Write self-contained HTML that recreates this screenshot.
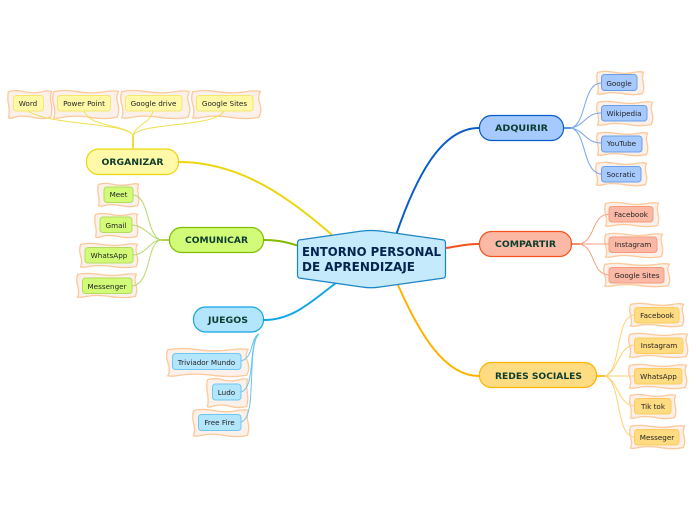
<!DOCTYPE html>
<html><head><meta charset="utf-8"><style>
html,body{margin:0;padding:0;background:#fff}
svg{display:block}
text{font-family:"DejaVu Sans","Liberation Sans",sans-serif}
.w{fill:#fbf0ea;stroke:#fdc99a;stroke-width:1.3;vector-effect:non-scaling-stroke}
.l{font-size:7.2px;fill:#222;text-anchor:middle}
.c{font-size:8.5px;font-weight:bold;fill:#0b3d2e;text-anchor:middle}
.f{fill:none}
.y{fill:#fff9a8;stroke:#f5e76a}.g{fill:#d2fb78;stroke:#b2dc5c}.b{fill:#b3e5fc;stroke:#6cc8f2}.a{fill:#a6caff;stroke:#6a9fe8}.r{fill:#fbb9a5;stroke:#f79a7c}.o{fill:#ffdc82;stroke:#ffcb5c}
</style></head><body>
<svg width="696" height="520" viewBox="0 0 696 520" xmlns="http://www.w3.org/2000/svg">
<defs><path id="v" class="w" d="M1,6 C12,0 22,0 35,5 S62,12 75,7 S92,2 99,5 C96,20 96,30 98,45 S101,75 97,94 C85,100 72,100 58,95 S30,88 18,93 S5,98 1,96 C4,80 3,65 1,50 S-1,20 1,6 Z"/></defs>

<!-- main connectors -->
<g class="f" stroke-width="2">
<path d="M179,162 C240,162 290,197 340,242" stroke="#ecd60f"/>
<path d="M264,240 C280,240 290,243 302,247" stroke="#82bb00"/>
<path d="M264,320 C295,320 315,298 340,280" stroke="#12a5e8"/>
<path d="M396,235 C415,180 440,128 479,128" stroke="#0a5cc8"/>
<path d="M446,248 C460,246 465,244 479,244" stroke="#f4511e"/>
<path d="M398,285 C420,335 445,376 479,376" stroke="#ffb300"/>
</g>

<!-- wavy backgrounds -->
<use href="#v" transform="translate(8,90) scale(.44,.29)"/>
<use href="#v" transform="translate(53,90) scale(.66,.29)"/>
<use href="#v" transform="translate(121,90) scale(.69,.29)"/>
<use href="#v" transform="translate(192,90) scale(.69,.29)"/>
<use href="#v" transform="translate(98,183) scale(.41,.24)"/>
<use href="#v" transform="translate(95,213) scale(.43,.25)"/>
<use href="#v" transform="translate(80,243) scale(.58,.25)"/>
<use href="#v" transform="translate(77,273) scale(.60,.25)"/>
<use href="#v" transform="translate(167,348) scale(.82,.29)"/>
<use href="#v" transform="translate(207,378) scale(.41,.30)"/>
<use href="#v" transform="translate(193,409) scale(.56,.28)"/>
<use href="#v" transform="translate(597,71) scale(.47,.24)"/>
<use href="#v" transform="translate(597,101) scale(.56,.25)"/>
<use href="#v" transform="translate(597,132) scale(.51,.24)"/>
<use href="#v" transform="translate(596,162) scale(.51,.24)"/>
<use href="#v" transform="translate(605,202) scale(.54,.25)"/>
<use href="#v" transform="translate(605,233) scale(.58,.25)"/>
<use href="#v" transform="translate(604,263) scale(.66,.24)"/>
<use href="#v" transform="translate(630,303) scale(.54,.24)"/>
<use href="#v" transform="translate(629,333) scale(.59,.25)"/>
<use href="#v" transform="translate(629,364) scale(.58,.25)"/>
<use href="#v" transform="translate(630,394) scale(.46,.25)"/>
<use href="#v" transform="translate(630,425) scale(.55,.24)"/>

<!-- branch connectors -->
<g class="f" stroke-width="1">
<g stroke="#f0e052">
<path d="M133,148 V136" stroke-width="1.6" stroke="#ecd60f"/>
<path d="M133,136 C128,122 50,126 28,111"/>
<path d="M133,136 C128,124 90,128 84,111"/>
<path d="M133,136 C136,124 150,124 153,111"/>
<path d="M133,136 C138,122 215,128 224,111"/>
</g>
<g stroke="#b6d96a">
<path d="M169,240 H161" stroke-width="1.6" stroke="#9ccb2a"/>
<path d="M161,240 C146,236 150,196 133,195"/>
<path d="M161,240 C150,238 146,226 132,225"/>
<path d="M161,240 C150,240 146,255 133,255"/>
<path d="M161,240 C146,242 152,284 132,286"/>
</g>
<g stroke="#66c6f0">
<path d="M259,334 C250,338 254,358 241,361"/>
<path d="M259,334 C248,342 256,388 241,392"/>
<path d="M259,334 C246,346 258,418 241,422"/>
</g>
<g stroke="#77a6ec">
<path d="M564,128 H571" stroke-width="1.6" stroke="#2f7ae0"/>
<path d="M571,128 C587,124 582,84 601,83"/>
<path d="M571,128 C584,126 586,113 601,113"/>
<path d="M571,128 C584,130 586,143 601,143"/>
<path d="M571,128 C587,132 582,172 601,174"/>
</g>
<g stroke="#fb9f80">
<path d="M572,244 H580" stroke-width="1.6" stroke="#f4703e"/>
<path d="M580,244 C596,240 591,215 609,214"/>
<path d="M580,244 H609"/>
<path d="M580,244 C596,248 591,274 609,275"/>
</g>
<g stroke="#ffd370">
<path d="M597,376 H605" stroke-width="1.6" stroke="#ffb300"/>
<path d="M605,376 C622,370 615,317 634,315"/>
<path d="M605,376 C618,372 618,347 634,345"/>
<path d="M605,376 H634"/>
<path d="M605,376 C618,380 618,404 634,406"/>
<path d="M605,376 C622,382 615,435 634,437"/>
</g>
</g>

<!-- central node -->
<path d="M299,240 L362,231 Q371,230 380,231 L444,240 Q445.5,241 445.5,243 V275 Q445.5,277 444,278 L380,287 Q371,288.5 362,287 L299,278 Q297.5,277 297.5,275 V243 Q297.5,241 299,240 Z" fill="#c5eafc" stroke="#1b85c8" stroke-width="1.2"/>
<text x="302" y="256" font-size="12" font-weight="bold" fill="#04234f" textLength="139" lengthAdjust="spacingAndGlyphs">ENTORNO PERSONAL</text>
<text x="302" y="271" font-size="12" font-weight="bold" fill="#04234f" textLength="113" lengthAdjust="spacingAndGlyphs">DE APRENDIZAJE</text>

<!-- category nodes -->
<g stroke-width="1.2">
<rect x="86.5" y="149" width="92" height="25.5" rx="12" fill="#fff9a8" stroke="#ecd60f"/>
<rect x="169.5" y="227.5" width="94" height="25" rx="12" fill="#d2fb78" stroke="#82bb00"/>
<rect x="193.5" y="307" width="70" height="25" rx="12" fill="#b3e5fc" stroke="#12a5e8"/>
<rect x="479.5" y="115.5" width="84" height="25" rx="12" fill="#a6caff" stroke="#0a5cc8"/>
<rect x="479.5" y="231.5" width="92" height="25" rx="12" fill="#fbb9a5" stroke="#f4511e"/>
<rect x="479.5" y="362.5" width="117" height="25" rx="12" fill="#ffdc82" stroke="#ffb300"/>
</g>
<text class="c" x="132.5" y="165" textLength="62" lengthAdjust="spacingAndGlyphs">ORGANIZAR</text>
<text class="c" x="216.5" y="243" textLength="63" lengthAdjust="spacingAndGlyphs">COMUNICAR</text>
<text class="c" x="228" y="323" textLength="40" lengthAdjust="spacingAndGlyphs">JUEGOS</text>
<text class="c" x="521.5" y="131" textLength="53" lengthAdjust="spacingAndGlyphs">ADQUIRIR</text>
<text class="c" x="525.5" y="247" textLength="61" lengthAdjust="spacingAndGlyphs">COMPARTIR</text>
<text class="c" x="538.5" y="379" textLength="87" lengthAdjust="spacingAndGlyphs">REDES SOCIALES</text>

<!-- leaf boxes -->
<g stroke-width="1">
<rect class="y" x="13.5" y="95.5" width="30" height="15.5" rx="3"/>
<rect class="y" x="57.5" y="95.5" width="53" height="15.5" rx="3"/>
<rect class="y" x="125.5" y="95.5" width="56.5" height="15.5" rx="3"/>
<rect class="y" x="196.5" y="95.5" width="56.5" height="15.5" rx="3"/>
<rect class="g" x="104" y="187" width="29" height="15.5" rx="3"/>
<rect class="g" x="100" y="217" width="32" height="15.5" rx="3"/>
<rect class="g" x="85" y="247.5" width="48" height="15.5" rx="3"/>
<rect class="g" x="82.5" y="278" width="49.5" height="15.5" rx="3"/>
<rect class="b" x="172.5" y="353.5" width="68.5" height="16" rx="3"/>
<rect class="b" x="212.5" y="384" width="28.5" height="16" rx="3"/>
<rect class="b" x="198.5" y="414.5" width="42.5" height="16" rx="3"/>
<rect class="a" x="601.5" y="74.5" width="35.5" height="16" rx="3"/>
<rect class="a" x="601.5" y="105.5" width="45.5" height="15.5" rx="3"/>
<rect class="a" x="601.5" y="136" width="40.5" height="16" rx="3"/>
<rect class="a" x="601.5" y="166.5" width="39.5" height="15.5" rx="3"/>
<rect class="r" x="609" y="206.5" width="44" height="15.5" rx="3"/>
<rect class="r" x="609" y="237" width="48" height="15.5" rx="3"/>
<rect class="r" x="609" y="267.5" width="55" height="15.5" rx="3"/>
<rect class="o" x="634.5" y="307.5" width="44.5" height="15.5" rx="3"/>
<rect class="o" x="634.5" y="338" width="48.5" height="15.5" rx="3"/>
<rect class="o" x="634.5" y="368.5" width="47.5" height="15.5" rx="3"/>
<rect class="o" x="634.5" y="398.5" width="36.5" height="15.5" rx="3"/>
<rect class="o" x="634.5" y="429.5" width="44.5" height="15.5" rx="3"/>
</g>

<!-- leaf labels -->
<text class="l" x="28" y="106">Word</text>
<text class="l" x="84" y="106">Power Point</text>
<text class="l" x="153.5" y="106">Google drive</text>
<text class="l" x="224.5" y="106">Google Sites</text>
<text class="l" x="118.5" y="197">Meet</text>
<text class="l" x="116" y="228">Gmail</text>
<text class="l" x="109" y="258">WhatsApp</text>
<text class="l" x="107" y="289">Messenger</text>
<text class="l" x="206.5" y="365">Triviador Mundo</text>
<text class="l" x="226.5" y="395">Ludo</text>
<text class="l" x="219.5" y="425">Free Fire</text>
<text class="l" x="619" y="86">Google</text>
<text class="l" x="624" y="116">Wikipedia</text>
<text class="l" x="621.5" y="146">YouTube</text>
<text class="l" x="621" y="177">Socratic</text>
<text class="l" x="631" y="217">Facebook</text>
<text class="l" x="633" y="247">Instagram</text>
<text class="l" x="637" y="278">Google Sites</text>
<text class="l" x="657" y="318">Facebook</text>
<text class="l" x="659" y="348">Instagram</text>
<text class="l" x="658.5" y="379">WhatsApp</text>
<text class="l" x="653" y="409">Tik tok</text>
<text class="l" x="657" y="440">Messeger</text>
</svg>
</body></html>
